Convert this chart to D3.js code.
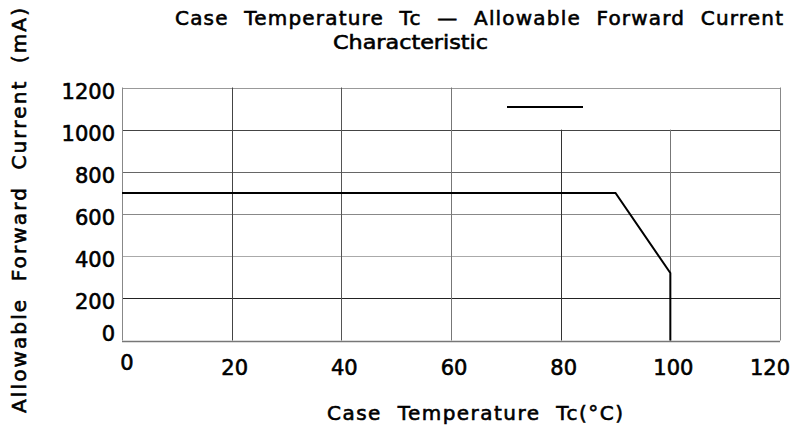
<!DOCTYPE html>
<html>
    <head>
        <meta charset="utf-8">
        <title>Case Temperature Tc - Allowable Forward Current</title>
        <style>
            html, body {margin: 0px;padding: 0px;overflow: hidden;background: #ffffff;}
            svg text {font-family: "DejaVu Sans", Verdana, sans-serif;fill: #000000;stroke: #000000;stroke-width: 0.6px;}
        </style>
    </head>
    <body>
        <div id="chart"></div>
        <script src="https://cdn.jsdelivr.net/npm/d3@7"></script>
        <script type="text/javascript">
        // Derating curve data
        var tempC = [0, 90, 100, 100];
        var currentMA = [700, 700, 320, 0];
        var xTicks = [0, 20, 40, 60, 80, 100, 120];
        var yTicks = [0, 200, 400, 600, 800, 1000, 1200];

        var width = 801, height = 434;
        var margin = {top: 87.5, right: 21, bottom: 93.5, left: 122};

        var svg = d3.select("#chart").append("svg")
            .attr("width", width)
            .attr("height", height);

        var x = d3.scaleLinear().domain([0, 120]).range([margin.left, width - margin.right]);
        var y = d3.scaleLinear().domain([0, 1200]).range([height - margin.bottom, margin.top]);

        // grid shades
        var hShade = {0: "#777", 200: "#222", 400: "#aaa", 600: "#888", 800: "#666", 1000: "#444", 1200: "#999"};
        var vShade = {0: "#888", 20: "#444", 40: "#555", 60: "#777", 80: "#333", 100: "#777", 120: "#888"};

        svg.append("g").selectAll("line")
            .data(yTicks)
          .enter().append("line")
            .attr("x1", x(0))
            .attr("x2", x(120))
            .attr("y1", function(d) { return Math.round(y(d)) + 0.5; })
            .attr("y2", function(d) { return Math.round(y(d)) + 0.5; })
            .style("stroke", function(d) { return hShade[d]; })
            .style("stroke-width", function(d) { return d === 0 ? 1.5 : 1; });

        // the 80 and 100 lines stop under the legend
        svg.append("g").selectAll("line")
            .data(xTicks)
          .enter().append("line")
            .attr("x1", function(d) { return Math.round(x(d)) + 0.5; })
            .attr("x2", function(d) { return Math.round(x(d)) + 0.5; })
            .attr("y1", function(d) { return (d === 80 || d === 100) ? y(1000) : y(1200); })
            .attr("y2", y(0))
            .style("stroke", function(d) { return vShade[d]; })
            .style("stroke-width", 1);

        // tick labels
        svg.append("g").selectAll("text")
            .data(yTicks)
          .enter().append("text")
            .attr("x", 115)
            .attr("y", function(d) { return y(d) + (d === 0 ? 0 : 11); })
            .attr("text-anchor", "end")
            .style("font-size", "21px")
            .text(function(d) { return d; });

        svg.append("g").selectAll("text")
            .data(xTicks)
          .enter().append("text")
            .attr("x", function(d) { return x(d) + (d === 0 ? 5 : (d === 120 ? -10 : 3)); })
            .attr("y", function(d) { return d === 0 ? 370 : 375; })
            .attr("text-anchor", "middle")
            .style("font-size", "21px")
            .text(function(d) { return d; });

        // curve
        var line = d3.line()
            .x(function(d) { return x(d[0]); })
            .y(function(d) { return y(d[1]); });

        svg.append("path")
            .datum(d3.zip(tempC, currentMA))
            .attr("d", line)
            .style("fill", "none")
            .style("stroke", "#000")
            .style("stroke-width", 2);

        // legend (no label)
        svg.append("line")
            .attr("x1", 507).attr("x2", 583)
            .attr("y1", 107).attr("y2", 107)
            .style("stroke", "#000")
            .style("stroke-width", 2);

        // titles
        svg.append("text")
            .attr("x", 175).attr("y", 25)
            .attr("textLength", 608)
            .attr("lengthAdjust", "spacing")
            .style("font-size", "20px")
            .style("word-spacing", "8px")
            .text("Case Temperature Tc \u2014 Allowable Forward Current");

        svg.append("text")
            .attr("x", 333).attr("y", 49)
            .attr("textLength", 155)
            .attr("lengthAdjust", "spacingAndGlyphs")
            .style("font-size", "20px")
            .text("Characteristic");

        svg.append("text")
            .attr("x", 327).attr("y", 420)
            .attr("textLength", 296)
            .attr("lengthAdjust", "spacing")
            .style("font-size", "20px")
            .style("word-spacing", "8px")
            .text("Case Temperature Tc(\u00b0C)");

        svg.append("text")
            .attr("transform", "translate(26,413) rotate(-90)")
            .attr("textLength", 405)
            .attr("lengthAdjust", "spacing")
            .style("font-size", "20px")
            .style("word-spacing", "8px")
            .text("Allowable Forward Current (mA)");
        </script>
    </body>
</html>
